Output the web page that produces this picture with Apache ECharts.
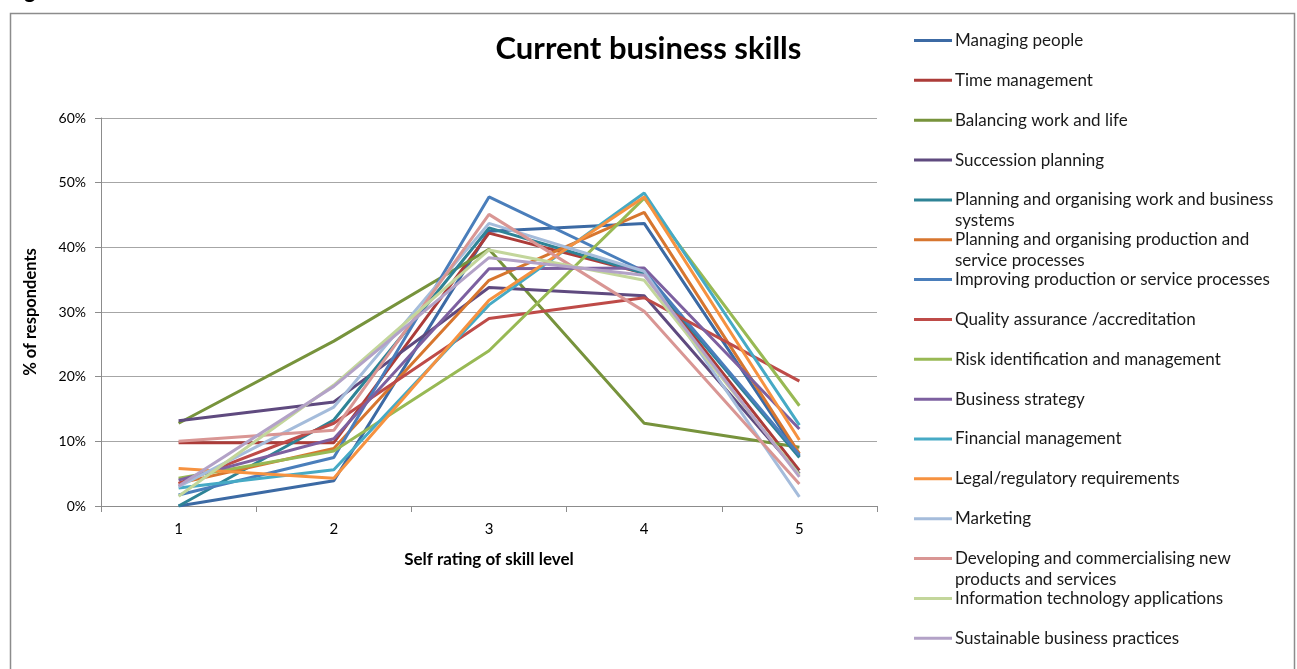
<!DOCTYPE html>
<html>
<head>
<meta charset="utf-8">
<script src="https://cdn.jsdelivr.net/npm/echarts@6/dist/echarts.min.js"></script>
<style>
  html, body { margin: 0; padding: 0; background: #ffffff; }
  #chart { width: 1297px; height: 669px; }
</style>
</head>
<body>
<div id="chart"></div>
<script>
// Self-rating categories on the x axis
const ratings = ['1', '2', '3', '4', '5'];

// Skill names, in legend order
const skills = [
  'Managing people',
  'Time management',
  'Balancing work and life',
  'Succession planning',
  'Planning and organising work and business systems',
  'Planning and organising production and service processes',
  'Improving production or service processes',
  'Quality assurance /accreditation',
  'Risk identification and management',
  'Business strategy',
  'Financial management',
  'Legal/regulatory requirements',
  'Marketing',
  'Developing and commercialising new products and services',
  'Information technology applications',
  'Sustainable business practices'
];

// % of respondents at each rating (1..5), one array per skill
const managingPeople          = [0.0, 3.9, 42.5, 43.7, 7.7];
const timeManagement          = [9.8, 9.8, 42.2, 36.0, 5.5];
const balancingWorkLife       = [12.8, 25.5, 39.7, 12.8, 9.1];
const successionPlanning      = [13.2, 16.1, 33.8, 32.5, 5.0];
const planningWorkSystems     = [0.0, 13.3, 43.0, 36.0, 7.5];
const planningProduction      = [3.5, 8.9, 34.9, 45.4, 8.1];
const improvingProcesses      = [1.7, 7.5, 47.8, 36.3, 7.9];
const qualityAssurance        = [3.5, 12.8, 29.0, 32.2, 19.3];
const riskManagement          = [4.3, 8.5, 24.0, 47.6, 15.5];
const businessStrategy        = [4.0, 10.4, 36.7, 36.8, 11.9];
const financialManagement     = [2.8, 5.6, 31.1, 48.4, 12.5];
const legalRequirements       = [5.8, 4.3, 31.8, 47.8, 10.2];
const marketing               = [3.0, 15.3, 43.7, 36.3, 1.4];
const developingProducts      = [10.0, 11.7, 45.1, 30.1, 3.4];
const informationTechnology   = [1.5, 18.7, 39.6, 34.9, 4.8];
const sustainablePractices    = [3.1, 18.5, 38.4, 35.7, 4.5];

const seriesValues = [
  managingPeople, timeManagement, balancingWorkLife, successionPlanning,
  planningWorkSystems, planningProduction, improvingProcesses, qualityAssurance,
  riskManagement, businessStrategy, financialManagement, legalRequirements,
  marketing, developingProducts, informationTechnology, sustainablePractices
];

// Y axis ticks (percent)
const yTicks = [0, 10, 20, 30, 40, 50, 60];

// Where long legend labels wrap onto a second line
const legendBreaks = {
  'Planning and organising work and business systems': ['Planning and organising work and business', 'systems'],
  'Planning and organising production and service processes': ['Planning and organising production and', 'service processes'],
  'Developing and commercialising new products and services': ['Developing and commercialising new', 'products and services']
};

const palette = [
  '#3C6AA4', '#AC3C39', '#77933C', '#5F4A7F',
  '#2E8396', '#D7762F', '#4A7EBB', '#BE4B48',
  '#98B954', '#7D60A0', '#46AAC5', '#F69240',
  '#A5BCDB', '#D99694', '#C3D69B', '#B3A2C7'
];

const FONT = 'Lato, "Liberation Sans", sans-serif';
const LINE_H = 21;
const LEGEND_FIRST_Y = 40.5; // centre of first legend row
const LEGEND_STEP = 39.85;   // row pitch

const chart = echarts.init(document.getElementById('chart'), null, { renderer: 'canvas' });

// One legend block per skill so each row sits at a fixed pitch;
// wrapped labels keep the swatch level with their first line.
const legends = skills.map((name, i) => {
  const wrapped = legendBreaks[name];
  const cy = LEGEND_FIRST_Y + i * LEGEND_STEP;
  const h = wrapped ? LINE_H * 3 : LINE_H;
  return {
    data: [name],
    left: 914,
    top: cy - h / 2,
    padding: 0,
    icon: 'rect',
    itemWidth: 38,
    itemHeight: 3,
    itemGap: 0,
    selectedMode: false,
    formatter: (n) => wrapped ? ' \n' + wrapped[0] + '\n' + wrapped[1] : n,
    textStyle: { fontFamily: FONT, fontSize: 17, color: '#1a1a1a', lineHeight: LINE_H, padding: [0, 0, 0, -2] }
  };
});

const series = skills.map((name, i) => ({
  name: name,
  type: 'line',
  data: seriesValues[i],
  symbol: 'none',
  smooth: false,
  lineStyle: { width: 3, color: palette[i] },
  itemStyle: { color: palette[i] },
  emphasis: { disabled: true }
}));

chart.setOption({
  animation: false,
  backgroundColor: '#ffffff',
  color: palette,
  title: {
    text: 'Current business skills',
    left: 'center',
    top: 28,
    textStyle: { fontFamily: FONT, fontSize: 31, fontWeight: 'bold', color: '#000000' }
  },
  graphic: [
    {
      // caption above the chart frame, cut off by the top edge
      type: 'text',
      left: 6,
      top: -20,
      style: { text: 'Figure', font: 'bold 22px ' + FONT, fill: '#000000' },
      silent: true
    },
    {
      type: 'rect',
      left: 8, top: 11,
      shape: { width: 1284, height: 700 },
      style: { fill: 'none', stroke: '#8c8c8c', lineWidth: 1.5 },
      silent: true
    }
  ],
  legend: legends,
  grid: { left: 101, right: 420, top: 118, bottom: 163, containLabel: false },
  xAxis: {
    type: 'category',
    data: ratings,
    boundaryGap: true,
    name: 'Self rating of skill level',
    nameLocation: 'middle',
    nameGap: 45,
    nameTextStyle: { fontFamily: FONT, fontSize: 17, fontWeight: 'bold', color: '#000000' },
    axisLine: { lineStyle: { color: '#8c8c8c', width: 1 } },
    axisTick: { show: true, alignWithLabel: false, length: 6, lineStyle: { color: '#8c8c8c' } },
    axisLabel: { fontFamily: FONT, fontSize: 15, color: '#000000', margin: 16 },
    splitLine: { show: false }
  },
  yAxis: {
    type: 'value',
    min: yTicks[0],
    max: yTicks[yTicks.length - 1],
    interval: yTicks[1] - yTicks[0],
    name: '% of respondents',
    nameLocation: 'middle',
    nameRotate: 90,
    nameGap: 62,
    nameTextStyle: { fontFamily: FONT, fontSize: 16.5, fontWeight: 'bold', color: '#000000' },
    axisLine: { show: true, lineStyle: { color: '#8c8c8c', width: 1 } },
    axisTick: { show: true, length: 6, lineStyle: { color: '#8c8c8c' } },
    axisLabel: { fontFamily: FONT, fontSize: 14, color: '#000000', margin: 15, formatter: (v) => v + '%' },
    splitLine: { show: true, lineStyle: { color: '#a6a6a6', width: 1 } }
  },
  series: series
});
</script>
</body>
</html>
